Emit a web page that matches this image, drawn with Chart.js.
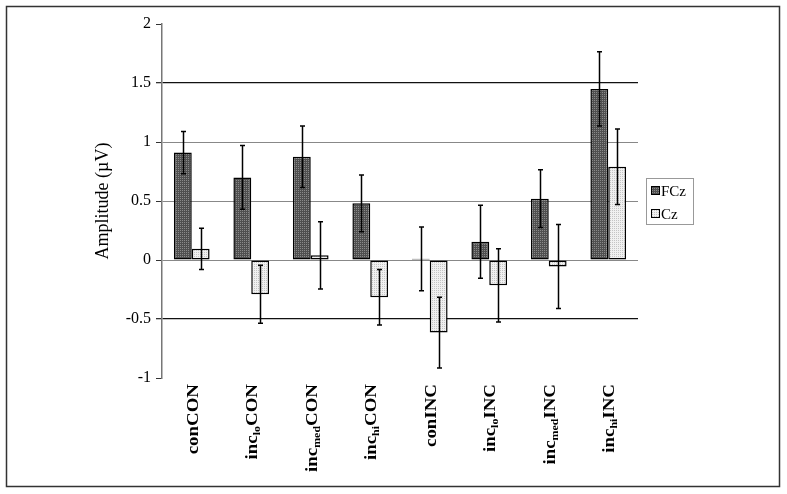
<!DOCTYPE html>
<html>
<head>
<meta charset="utf-8">
<script src="https://cdn.jsdelivr.net/npm/chart.js@4.4.1/dist/chart.umd.min.js"></script>
<style>
  body { margin: 0; background: #fff; }
  #wrap { width: 787px; height: 494px; }
</style>
</head>
<body>
<div id="wrap"><canvas id="chartAmp"></canvas></div>
<script>
// Datos
const categorias = ['conCON', 'incloCON', 'incmedCON', 'inchiCON', 'conINC', 'incloINC', 'incmedINC', 'inchiINC'];
// partes de cada etiqueta: texto, subindice, resto
const etiquetas = [
    ['con', '', 'CON'],
    ['inc', 'lo', 'CON'],
    ['inc', 'med', 'CON'],
    ['inc', 'hi', 'CON'],
    ['con', '', 'INC'],
    ['inc', 'lo', 'INC'],
    ['inc', 'med', 'INC'],
    ['inc', 'hi', 'INC']
];
const fcz    = [0.91, 0.70, 0.875, 0.48, 0.01, 0.155, 0.52, 1.45];
const fczErr = [0.18, 0.27, 0.26, 0.24, 0.27, 0.31, 0.245, 0.315];
const cz     = [0.095, -0.29, 0.04, -0.315, -0.615, -0.215, -0.055, 0.79];
const czErr  = [0.175, 0.245, 0.285, 0.235, 0.30, 0.31, 0.355, 0.32];
const yMin = -1, yMax = 2, yPaso = 0.5;

const SERIF = '"Liberation Serif", "Times New Roman", serif';

function crearPatron(fondo, punto) {
    const c = document.createElement('canvas');
    c.width = 2; c.height = 2;
    const g = c.getContext('2d');
    g.fillStyle = fondo;
    g.fillRect(0, 0, 2, 2);
    g.fillStyle = punto;
    g.fillRect(0, 0, 1, 1);
    return g.createPattern(c, 'repeat');
}

const ctx = document.getElementById('chartAmp').getContext('2d');
const patronOscuro = crearPatron('#4f4f4f', '#8a8a8a');
const patronClaro = crearPatron('#f0f0f0', '#c4c4c4');

// Marco exterior y fondo
const marcoPlugin = {
    id: 'marco',
    beforeDraw(chart) {
        const c = chart.ctx;
        c.save();
        c.fillStyle = '#fff';
        c.fillRect(0, 0, chart.width, chart.height);
        c.strokeStyle = '#333';
        c.lineWidth = 1.5;
        c.strokeRect(6.5, 6.5, 773, 480);
        c.restore();
    }
};

// Barras de error
const erroresPlugin = {
    id: 'errores',
    afterDatasetsDraw(chart) {
        const c = chart.ctx;
        const y = chart.scales.y;
        const errores = [fczErr, czErr];
        c.save();
        c.strokeStyle = '#000';
        c.lineWidth = 1.5;
        chart.data.datasets.forEach((ds, d) => {
            const meta = chart.getDatasetMeta(d);
            meta.data.forEach((bar, i) => {
                const v = ds.data[i];
                const e = errores[d][i];
                const x = Math.round(bar.x) + 0.5;
                const y1 = y.getPixelForValue(v + e);
                const y2 = y.getPixelForValue(v - e);
                c.beginPath();
                c.moveTo(x, y1); c.lineTo(x, y2);
                c.moveTo(x - 2.5, y1); c.lineTo(x + 2.5, y1);
                c.moveTo(x - 2.5, y2); c.lineTo(x + 2.5, y2);
                c.stroke();
            });
        });
        c.restore();
    }
};

// Etiquetas del eje X con subindices, giradas
const etiquetasPlugin = {
    id: 'etiquetasX',
    afterDraw(chart) {
        const c = chart.ctx;
        const x = chart.scales.x;
        const fMain = 'bold 17.5px ' + SERIF;
        const fSub = 'bold 11px ' + SERIF;
        const estirar = 1.08;
        etiquetas.forEach((partes, i) => {
            const px = x.getPixelForValue(i);
            c.save();
            c.translate(px, chart.chartArea.bottom + 6);
            c.rotate(-Math.PI / 2);
            c.scale(estirar, 1);
            c.fillStyle = '#000';
            c.textBaseline = 'alphabetic';
            c.textAlign = 'left';
            c.font = fMain;
            const w1 = c.measureText(partes[0]).width;
            const w3 = c.measureText(partes[2]).width;
            c.font = fSub;
            const w2 = partes[1] ? c.measureText(partes[1]).width : 0;
            let pos = -(w1 + w2 + w3);
            c.font = fMain;
            c.fillText(partes[0], pos, 6);
            pos += w1;
            if (partes[1]) {
                c.font = fSub;
                c.fillText(partes[1], pos, 9);
                pos += w2;
            }
            c.font = fMain;
            c.fillText(partes[2], pos, 6);
            c.restore();
        });
    }
};

// Leyenda a la derecha
const leyendaPlugin = {
    id: 'leyendaCaja',
    afterDraw(chart) {
        const c = chart.ctx;
        c.save();
        c.strokeStyle = '#999';
        c.lineWidth = 1;
        c.strokeRect(646.5, 178.5, 47, 46);
        const items = [
            { texto: 'FCz', relleno: patronOscuro, y: 191 },
            { texto: 'Cz', relleno: patronClaro, y: 214 }
        ];
        c.font = '15px ' + SERIF;
        c.textBaseline = 'middle';
        items.forEach(it => {
            c.fillStyle = it.relleno;
            c.fillRect(651.5, it.y - 4.5, 8, 8);
            c.strokeStyle = '#000';
            c.strokeRect(651.5, it.y - 4.5, 8, 8);
            c.fillStyle = '#000';
            c.fillText(it.texto, 661, it.y + 1);
        });
        c.restore();
    }
};

const chartAmp = new Chart(ctx, {
    type: 'bar',
    data: {
        labels: categorias,
        datasets: [
            {
                label: 'FCz',
                data: fcz,
                backgroundColor: patronOscuro,
                borderColor: '#000',
                borderWidth: 1.5,
                borderSkipped: false,
                categoryPercentage: 0.6,
                barPercentage: 1.0
            },
            {
                label: 'Cz',
                data: cz,
                backgroundColor: patronClaro,
                borderColor: '#000',
                borderWidth: 1.5,
                borderSkipped: false,
                categoryPercentage: 0.6,
                barPercentage: 1.0
            }
        ]
    },
    options: {
        responsive: true,
        maintainAspectRatio: false,
        animation: false,
        layout: { padding: { left: 0, top: 24, right: 149, bottom: 0 } },
        plugins: {
            legend: { display: false },
            tooltip: { enabled: false }
        },
        scales: {
            x: {
                grid: { display: false },
                border: { display: false },
                ticks: { display: false },
                afterFit: function(scale) { scale.height = 116; }
            },
            y: {
                min: yMin,
                max: yMax,
                afterFit: function(scale) { scale.width = 162; },
                ticks: {
                    stepSize: yPaso,
                    padding: 5,
                    color: '#000',
                    font: { family: SERIF, size: 16 },
                    callback: function(value) { return String(value); }
                },
                grid: {
                    tickLength: 6,
                    tickColor: '#333',
                    color: function(c) {
                        const v = c.tick ? c.tick.value : null;
                        if (v === yMin || v === yMax) return 'rgba(0,0,0,0)';
                        if (v === 1.5 || v === -0.5) return '#111';
                        return '#888';
                    },
                    lineWidth: function(c) {
                        const v = c.tick ? c.tick.value : null;
                        return (v === 1.5 || v === -0.5) ? 1.3 : 1;
                    }
                },
                border: { color: '#777', width: 1.5 },
                title: {
                    display: true,
                    text: 'Amplitude (µV)',
                    color: '#000',
                    font: { family: SERIF, size: 18 },
                    padding: { top: 92, bottom: 0 }
                }
            }
        }
    },
    plugins: [marcoPlugin, erroresPlugin, etiquetasPlugin, leyendaPlugin]
});
</script>
</body>
</html>
